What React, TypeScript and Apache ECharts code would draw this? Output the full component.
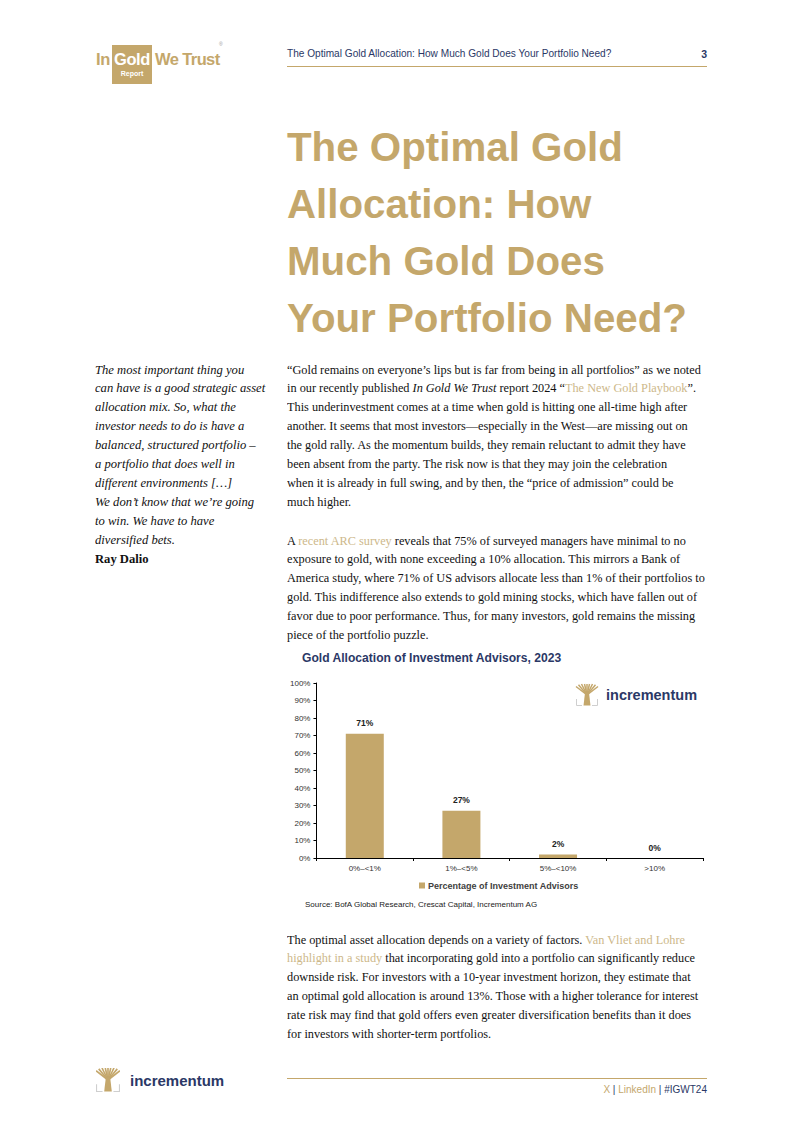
import React, { useEffect, useRef } from 'react';
import * as echarts from 'echarts';

// ---------- chart data ----------
const categories = ['0%–<1%', '1%–<5%', '5%–<10%', '>10%'];
const advisorShares = [71, 27, 2, 0];
const seriesName = 'Percentage of Investment Advisors';
const chartTitle = 'Gold Allocation of Investment Advisors, 2023';
const sourceNote = 'Source: BofA Global Research, Crescat Capital, Incrementum AG';
const yMin = 0;
const yMax = 100;
const yStep = 10;

// ---------- page text ----------
type Seg = [string, ('n' | 'i' | 'l' | 'b')?];
const headerText = 'The Optimal Gold Allocation: How Much Gold Does Your Portfolio Need?';
const pageNumber = '3';
const titleLines = ['The Optimal Gold', 'Allocation: How', 'Much Gold Does', 'Your Portfolio Need?'];
const quoteLines = [
  'The most important thing you',
  'can have is a good strategic asset',
  'allocation mix. So, what the',
  'investor needs to do is have a',
  'balanced, structured portfolio –',
  'a portfolio that does well in',
  'different environments […]',
  'We don’t know that we’re going',
  'to win. We have to have',
  'diversified bets.',
];
const quoteAuthor = 'Ray Dalio';
const para1: Seg[][] = [
  [['“Gold remains on everyone’s lips but is far from being in all portfolios” as we noted']],
  [['in our recently published '], ['In Gold We Trust', 'i'], [' report 2024 “'], ['The New Gold Playbook', 'l'], ['”.']],
  [['This underinvestment comes at a time when gold is hitting one all-time high after']],
  [['another. It seems that most investors—especially in the West—are missing out on']],
  [['the gold rally. As the momentum builds, they remain reluctant to admit they have']],
  [['been absent from the party. The risk now is that they may join the celebration']],
  [['when it is already in full swing, and by then, the “price of admission” could be']],
  [['much higher.']],
];
const para2: Seg[][] = [
  [['A '], ['recent ARC survey', 'l'], [' reveals that 75% of surveyed managers have minimal to no']],
  [['exposure to gold, with none exceeding a 10% allocation. This mirrors a Bank of']],
  [['America study, where 71% of US advisors allocate less than 1% of their portfolios to']],
  [['gold. This indifference also extends to gold mining stocks, which have fallen out of']],
  [['favor due to poor performance. Thus, for many investors, gold remains the missing']],
  [['piece of the portfolio puzzle.']],
];
const para3: Seg[][] = [
  [['The optimal asset allocation depends on a variety of factors. '], ['Van Vliet and Lohre', 'l']],
  [['highlight in a study', 'l'], [' that incorporating gold into a portfolio can significantly reduce']],
  [['downside risk. For investors with a 10-year investment horizon, they estimate that']],
  [['an optimal gold allocation is around 13%. Those with a higher tolerance for interest']],
  [['rate risk may find that gold offers even greater diversification benefits than it does']],
  [['for investors with shorter-term portfolios.']],
];

const GOLD = '#C4A76B';
const LINK = '#CDB88A';
const NAVY = '#2B3866';
const SANS = 'Arial, "Liberation Sans", sans-serif';
const SERIF = '"Liberation Serif", "Times New Roman", serif';
const BODY_SIZE = 13;
const LH = 18.9;

const branchTips = [
  [0, 2.5], [2.5, 0.8], [5.5, 0], [8.5, 0], [11, 0], [13.5, 0], [16.5, 0], [19.5, 0.8], [22, 2.5],
];

function TreeIcon({ size }: { size: number }) {
  return (
    <svg width={size} height={size} viewBox="0 0 22 22" style={{ display: 'block' }}>
      {branchTips.map(([x, y], i) => (
        <line key={i} x1={11} y1={11} x2={x} y2={y} stroke={GOLD} strokeWidth={1.5} />
      ))}
      <polygon points="9,9 13,9 14.5,21.5 7.5,21.5" fill={GOLD} />
      <polyline points="0.5,15 0.5,21.5 6,21.5" fill="none" stroke="#cfcfcf" strokeWidth={1} />
      <polyline points="21.5,15 21.5,21.5 16,21.5" fill="none" stroke="#cfcfcf" strokeWidth={1} />
    </svg>
  );
}

function Para({ lines, top, left }: { lines: Seg[][]; top: number; left: number }) {
  return (
    <div style={{ position: 'absolute', left, top: top - LH / 2, fontFamily: SERIF, fontSize: BODY_SIZE, lineHeight: `${LH}px`, color: '#111', transform: 'scaleX(0.945)', transformOrigin: 'left top' }}>
      {lines.map((segs, i) => (
        <div key={i} style={{ whiteSpace: 'nowrap', height: LH }}>
          {segs.map(([t, k], j) => (
            <span key={j} style={{ fontStyle: k === 'i' ? 'italic' : 'normal', color: k === 'l' ? LINK : undefined }}>{t}</span>
          ))}
        </div>
      ))}
    </div>
  );
}

function Chart() {
  const ref = useRef<HTMLDivElement>(null);
  useEffect(() => {
    const chart = echarts.init(ref.current!, null, { renderer: 'svg' });
    chart.setOption({
      animation: false,
      title: {
        text: chartTitle,
        left: 15,
        top: 7,
        padding: 0,
        textStyle: { fontFamily: SANS, fontSize: 12.1, fontWeight: 'bold', color: NAVY },
      },
      grid: { left: 29, right: 14, top: 38, bottom: 57, containLabel: false },
      legend: {
        data: [seriesName],
        left: 127,
        top: 231,
        icon: 'rect',
        itemWidth: 6,
        itemHeight: 6,
        itemGap: 4,
        textStyle: { fontFamily: SANS, fontSize: 9, fontWeight: 'bold', color: '#404040', padding: [0, 0, 0, -2] },
      },
      xAxis: {
        type: 'category',
        data: categories,
        axisLine: { lineStyle: { color: '#000', width: 1 } },
        axisTick: { show: true, length: 3, lineStyle: { color: '#000' } },
        axisLabel: { fontFamily: SANS, fontSize: 8, color: '#333', margin: 6 },
      },
      yAxis: {
        type: 'value',
        min: yMin,
        max: yMax,
        interval: yStep,
        axisLine: { show: true, lineStyle: { color: '#000', width: 1 } },
        axisTick: { show: true, length: 3, lineStyle: { color: '#000' } },
        splitLine: { show: false },
        axisLabel: { fontFamily: SANS, fontSize: 8, color: '#333', margin: 6, formatter: '{value}%' },
      },
      series: [
        {
          name: seriesName,
          type: 'bar',
          data: advisorShares,
          barWidth: 38,
          itemStyle: { color: GOLD },
          label: {
            show: true,
            position: 'top',
            distance: 6,
            formatter: '{c}%',
            fontFamily: SANS,
            fontSize: 8.5,
            fontWeight: 'bold',
            color: '#222',
          },
        },
      ],
      graphic: [
        {
          type: 'group',
          x: 289,
          y: 39,
          children: [
            ...branchTips.map(([x, y]) => ({
              type: 'line',
              shape: { x1: 11, y1: 11, x2: x, y2: y },
              style: { stroke: GOLD, lineWidth: 1.5 },
            })),
            { type: 'polygon', shape: { points: [[9, 9], [13, 9], [14.5, 21.5], [7.5, 21.5]] }, style: { fill: GOLD } },
            { type: 'polyline', shape: { points: [[0.5, 15], [0.5, 21.5], [6, 21.5]] }, style: { stroke: '#cfcfcf', lineWidth: 1, fill: null } },
            { type: 'polyline', shape: { points: [[21.5, 15], [21.5, 21.5], [16, 21.5]] }, style: { stroke: '#cfcfcf', lineWidth: 1, fill: null } },
            {
              type: 'text',
              x: 30,
              y: 11,
              style: { text: 'incrementum', fontFamily: SANS, fontSize: 14.5, fontWeight: 'bold', fill: NAVY, verticalAlign: 'middle' },
            },
          ],
        },
        {
          type: 'text',
          left: 18,
          top: 255,
          style: { text: sourceNote, fontFamily: SANS, fontSize: 8, fill: '#222' },
        },
      ],
    });
    return () => chart.dispose();
  }, []);
  return <div ref={ref} style={{ position: 'absolute', left: 287, top: 645, width: 430, height: 270 }} />;
}

export default function App() {
  return (
    <div style={{ position: 'absolute', left: 0, top: 0, width: 802, height: 1134, background: '#fff', overflow: 'hidden', fontFamily: SANS }}>
      {/* header logo */}
      <div style={{ position: 'absolute', left: 96, top: 49, fontSize: 16.5, fontWeight: 'bold', color: GOLD, lineHeight: '20px', letterSpacing: -0.3 }}>In</div>
      <div style={{ position: 'absolute', left: 112, top: 45, width: 40, height: 39, background: GOLD }} />
      <div style={{ position: 'absolute', left: 112, top: 49, width: 40, textAlign: 'center', fontSize: 16.5, fontWeight: 'bold', color: '#fff', lineHeight: '20px', letterSpacing: -0.4 }}>Gold</div>
      <div style={{ position: 'absolute', left: 112, top: 69, width: 40, textAlign: 'center', fontSize: 7, fontWeight: 'bold', color: '#fff', lineHeight: '9px' }}>Report</div>
      <div style={{ position: 'absolute', left: 155, top: 49, fontSize: 16.5, fontWeight: 'bold', color: GOLD, lineHeight: '20px', letterSpacing: -0.6 }}>We Trust</div>
      <div style={{ position: 'absolute', left: 219, top: 41, fontSize: 5, color: '#999' }}>®</div>

      {/* header line */}
      <div style={{ position: 'absolute', left: 287, top: 47, fontSize: 10.1, color: NAVY, lineHeight: '14px', whiteSpace: 'nowrap' }}>{headerText}</div>
      <div style={{ position: 'absolute', left: 695, top: 47, width: 12, textAlign: 'right', fontSize: 10.5, fontWeight: 'bold', color: NAVY, lineHeight: '14px' }}>{pageNumber}</div>
      <div style={{ position: 'absolute', left: 287, top: 66, width: 420, height: 1, background: GOLD }} />

      {/* title */}
      <div style={{ position: 'absolute', left: 287, top: 147 - 28.5, fontSize: 40.3, fontWeight: 'bold', color: GOLD, lineHeight: '57px', whiteSpace: 'nowrap' }}>
        {titleLines.map((l, i) => (
          <div key={i}>{l}</div>
        ))}
      </div>

      {/* side quote */}
      <div style={{ position: 'absolute', left: 95, top: 370 - LH / 2, fontFamily: SERIF, fontSize: BODY_SIZE, lineHeight: `${LH}px`, color: '#111', fontStyle: 'italic', whiteSpace: 'nowrap', transform: 'scaleX(0.97)', transformOrigin: 'left top' }}>
        {quoteLines.map((l, i) => (
          <div key={i}>{l}</div>
        ))}
        <div style={{ fontStyle: 'normal', fontWeight: 'bold' }}>{quoteAuthor}</div>
      </div>

      <Para lines={para1} top={370} left={287} />
      <Para lines={para2} top={541} left={287} />
      <Chart />
      <Para lines={para3} top={940} left={287} />

      {/* footer */}
      <div style={{ position: 'absolute', left: 96, top: 1068 }}>
        <TreeIcon size={24} />
      </div>
      <div style={{ position: 'absolute', left: 130, top: 1071, fontSize: 15, fontWeight: 'bold', color: NAVY, lineHeight: '20px' }}>incrementum</div>
      <div style={{ position: 'absolute', left: 287, top: 1078, width: 420, height: 1, background: GOLD }} />
      <div style={{ position: 'absolute', right: 802 - 707, top: 1083, fontSize: 10, color: NAVY, lineHeight: '14px', whiteSpace: 'nowrap' }}>
        <span style={{ color: GOLD }}>X</span> | <span style={{ color: GOLD }}>LinkedIn</span> | #IGWT24
      </div>
    </div>
  );
}
